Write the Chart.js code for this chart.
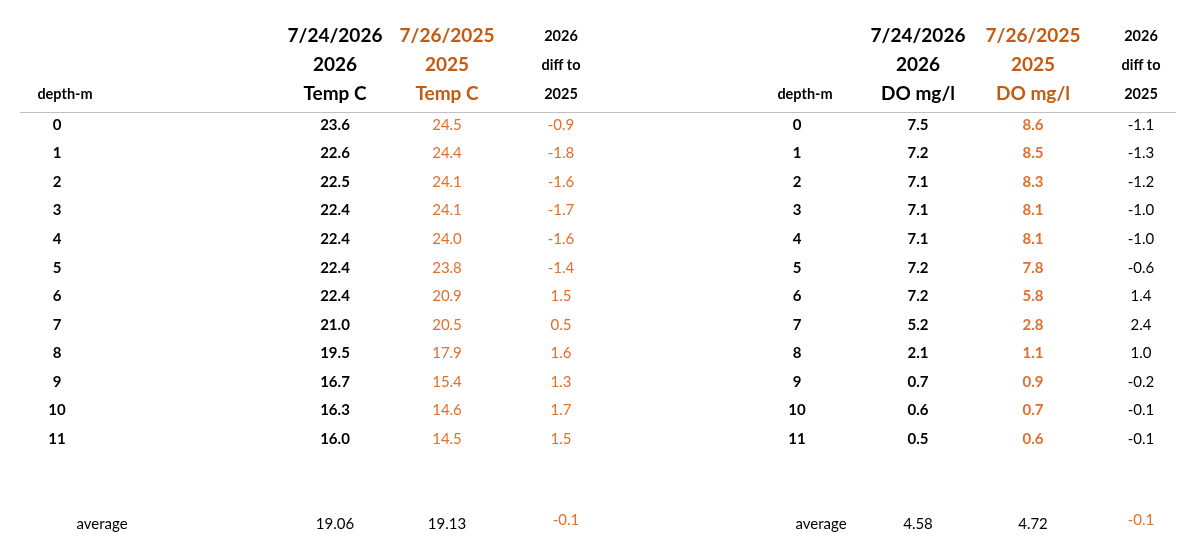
<!DOCTYPE html>
<html><head><meta charset="utf-8">
<script src="https://cdn.jsdelivr.net/npm/chart.js@4"></script>
<style>html,body{margin:0;background:#fff}#wrap{width:1188px;height:548px}</style>
</head><body><div id="wrap"><canvas id="c"></canvas></div>
<script>
const depths = [0,1,2,3,4,5,6,7,8,9,10,11];
const temp2026 = [23.6,22.6,22.5,22.4,22.4,22.4,22.4,21.0,19.5,16.7,16.3,16.0];
const temp2025 = [24.5,24.4,24.1,24.1,24.0,23.8,20.9,20.5,17.9,15.4,14.6,14.5];
const tempDiff = [-0.9,-1.8,-1.6,-1.7,-1.6,-1.4,1.5,0.5,1.6,1.3,1.7,1.5];
const do2026 = [7.5,7.2,7.1,7.1,7.1,7.2,7.2,5.2,2.1,0.7,0.6,0.5];
const do2025 = [8.6,8.5,8.3,8.1,8.1,7.8,5.8,2.8,1.1,0.9,0.7,0.6];
const doDiff = [-1.1,-1.3,-1.2,-1.0,-1.0,-0.6,1.4,2.4,1.0,-0.2,-0.1,-0.1];
const averages = {temp2026:'19.06', temp2025:'19.13', tempDiff:'-0.1', do2026:'4.58', do2025:'4.72', doDiff:'-0.1'};
const headers = {
  left: [['depth-m'], ['7/24/2026','2026','Temp C'], ['7/26/2025','2025','Temp C'], ['2026','diff to','2025']],
  right: [['depth-m'], ['7/24/2026','2026','DO mg/l'], ['7/26/2025','2025','DO mg/l'], ['2026','diff to','2025']]
};

const BLACK = '#000', ORANGE_H = '#c55a11', ORANGE = '#e0702f';
const FONT = 'Lato, "Open Sans", sans-serif';
const colX = {left:[57,335,447,561], right:[797,918,1033,1141]};
const avgRow = 13.98;

function col(x, vals, style) {
  return { data: vals.map((v,i)=>({x, y:i, t: typeof v==='number' && style.fixed ? v.toFixed(1) : String(v)})), style };
}
const datasets = [
  col(colX.left[0], depths, {w:'bold', c:BLACK}),
  col(colX.left[1], temp2026, {w:'bold', c:BLACK, fixed:1}),
  col(colX.left[2], temp2025, {w:'normal', c:ORANGE, fixed:1}),
  col(colX.left[3], tempDiff, {w:'normal', c:ORANGE, fixed:1}),
  col(colX.right[0], depths, {w:'bold', c:BLACK}),
  col(colX.right[1], do2026, {w:'bold', c:BLACK, fixed:1}),
  col(colX.right[2], do2025, {w:'bold', c:ORANGE, fixed:1}),
  col(colX.right[3], doDiff, {w:'normal', c:BLACK, fixed:1}),
  {data:[
    {x:102,y:avgRow,t:'average'},{x:335,y:avgRow,t:averages.temp2026},{x:447,y:avgRow,t:averages.temp2025},
    {x:821,y:avgRow,t:'average'},{x:918,y:avgRow,t:averages.do2026},{x:1033,y:avgRow,t:averages.do2025}],
   style:{w:'normal', c:BLACK}},
  {data:[{x:566,y:avgRow-0.15,t:averages.tempDiff},{x:1141,y:avgRow-0.15,t:averages.doDiff}], style:{w:'normal', c:ORANGE}}
].map(d=>({type:'scatter', data:d.data, style:d.style, pointRadius:0}));

const tablePlugin = {
  id:'table',
  afterDatasetsDraw(chart){
    const {ctx, scales:{x,y}} = chart;
    ctx.save();
    ctx.textAlign='center'; ctx.textBaseline='middle';
    chart.data.datasets.forEach(ds=>{
      ctx.fillStyle = ds.style.c;
      ctx.font = ds.style.w+' 15px '+FONT;
      ds.data.forEach(p=>ctx.fillText(p.t, x.getPixelForValue(p.x), y.getPixelForValue(p.y)));
    });
    // headers
    const hy = [-3.11,-2.1,-1.08];
    ['left','right'].forEach(side=>{
      headers[side].forEach((lines,ci)=>{
        const px = x.getPixelForValue(colX[side][ci] + (ci===0?8:0));
        const off = 3 - lines.length;
        lines.forEach((t,li)=>{
          let size = 19, color = BLACK;
          if (ci===0 || ci===3) size = 14.5;
          if (ci===2) color = ORANGE_H;
          ctx.fillStyle = color;
          ctx.font = 'bold '+size+'px '+FONT;
          ctx.fillText(t, px, y.getPixelForValue(hy[li+off]));
        });
      });
    });
    ctx.strokeStyle='#bfbfbf'; ctx.lineWidth=1;
    const ly = Math.round(y.getPixelForValue(-0.46))+0.5;
    ctx.beginPath(); ctx.moveTo(x.getPixelForValue(20), ly); ctx.lineTo(x.getPixelForValue(1176), ly); ctx.stroke();
    ctx.restore();
  }
};

new Chart(document.getElementById('c'), {
  type:'scatter',
  data:{datasets},
  options:{
    responsive:true, maintainAspectRatio:false, animation:false,
    layout:{padding:0},
    plugins:{legend:{display:false}, tooltip:{enabled:false}},
    scales:{
      x:{type:'linear', min:0, max:1188, display:false},
      y:{type:'linear', min:-125/28.55, max:(548-125)/28.55, reverse:true, display:false}
    }
  },
  plugins:[tablePlugin]
});
</script></body></html>
